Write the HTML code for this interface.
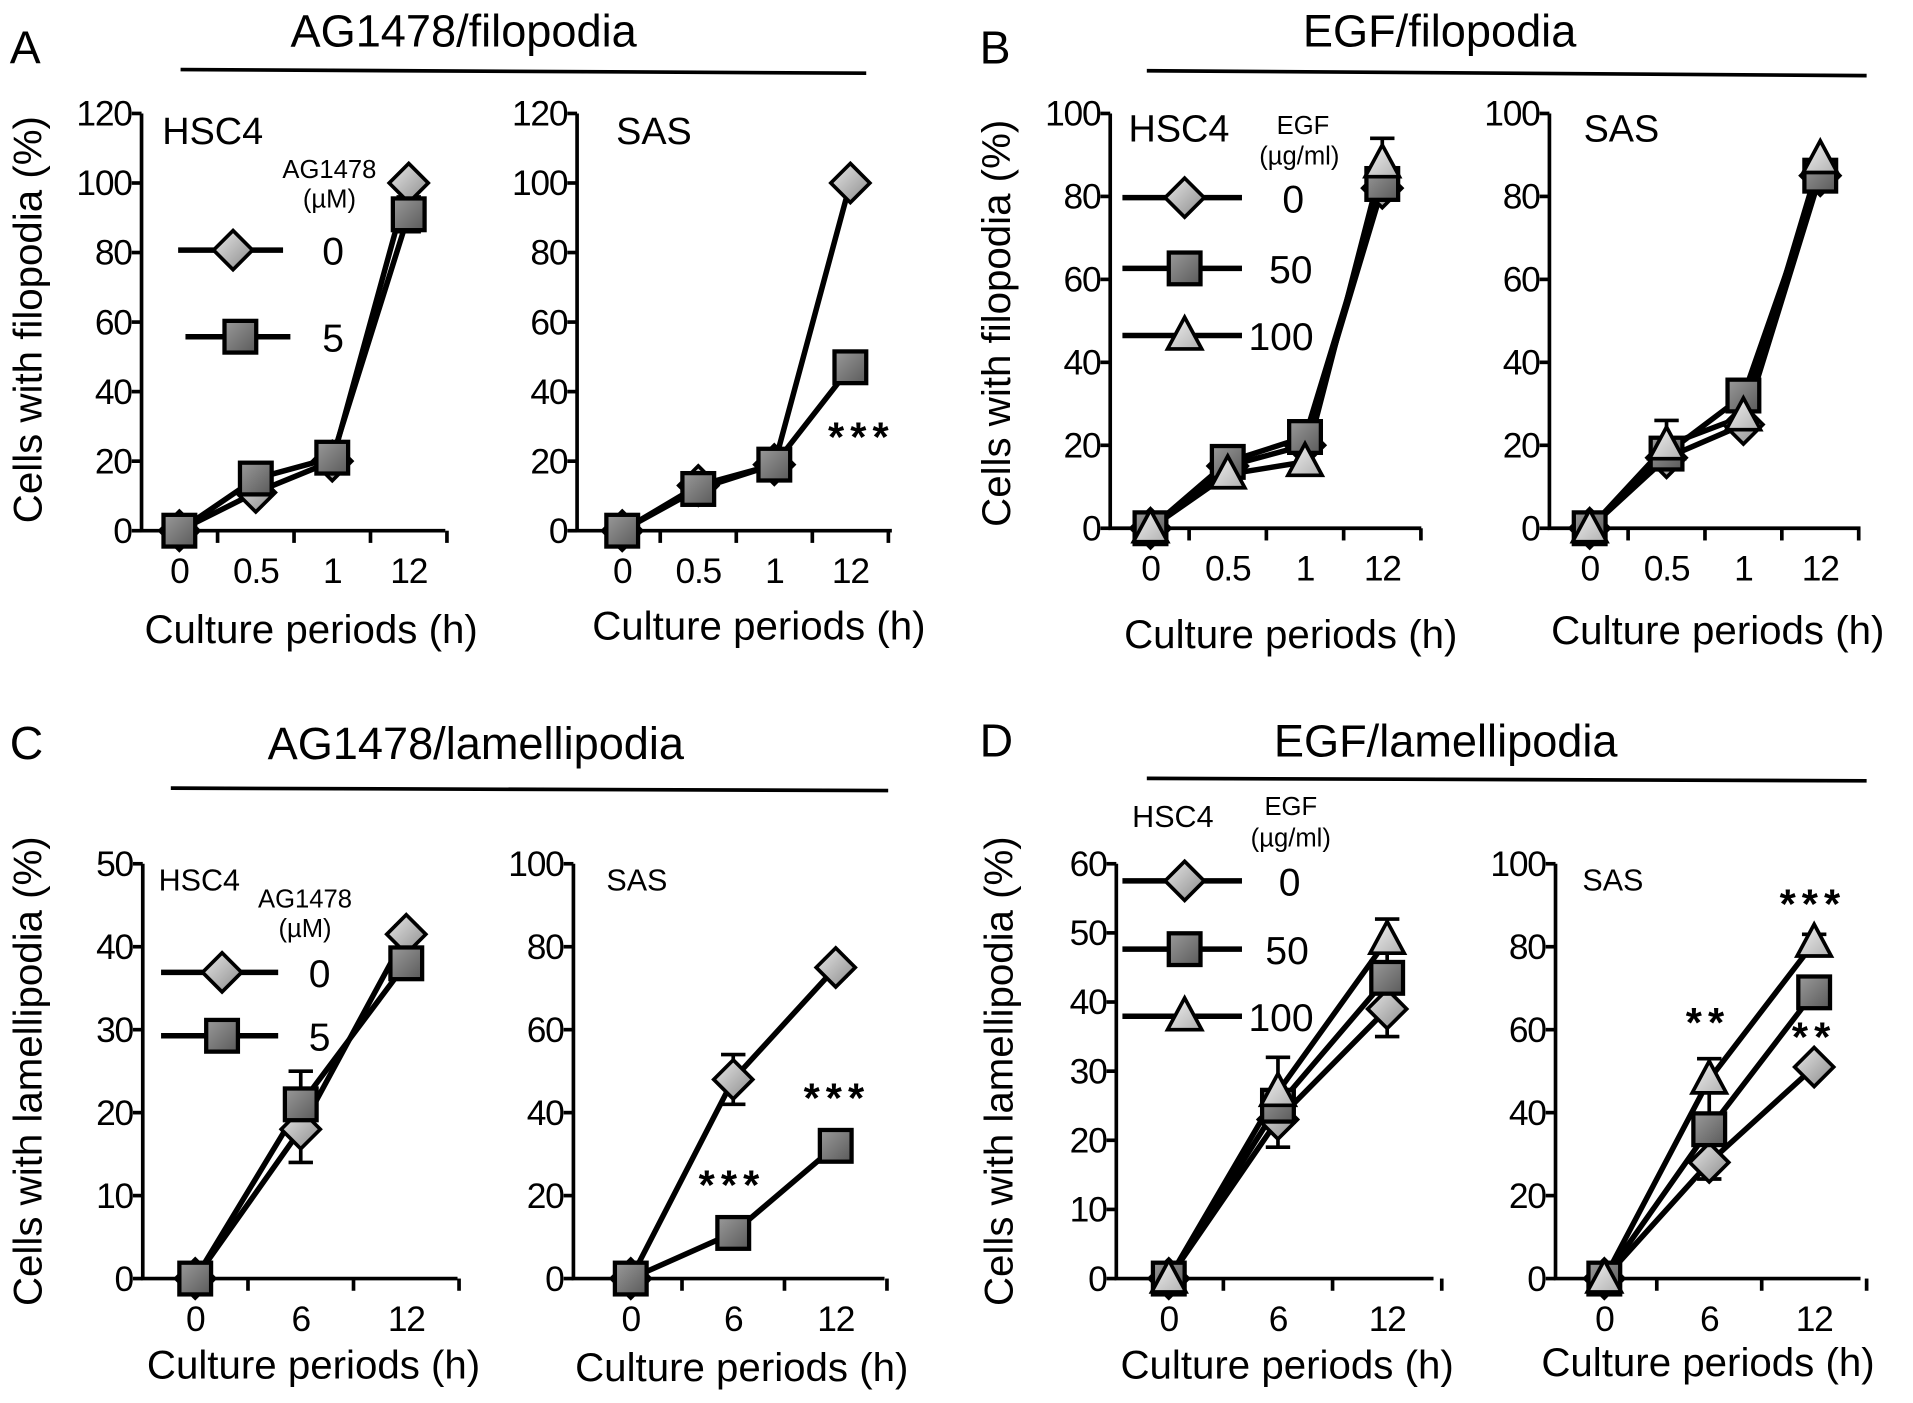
<!DOCTYPE html>
<html><head><meta charset="utf-8"><style>
html,body{margin:0;padding:0;background:#fff;}
svg{display:block;font-family:"Liberation Sans",sans-serif;}
</style></head><body>
<svg id="fig" width="1913" height="1403" viewBox="0 0 1568 1150" xmlns="http://www.w3.org/2000/svg">
<defs>
<linearGradient id="gd" x1="0" y1="0" x2="1" y2="1"><stop offset="0" stop-color="#e8e8e8"/><stop offset="1" stop-color="#8a8a8a"/></linearGradient>
<linearGradient id="gs" x1="0" y1="0" x2="1" y2="1"><stop offset="0" stop-color="#9a9a9a"/><stop offset="1" stop-color="#5a5a5a"/></linearGradient>
<linearGradient id="gt" x1="0" y1="0" x2="1" y2="1"><stop offset="0" stop-color="#f2f2f2"/><stop offset="1" stop-color="#b0b0b0"/></linearGradient>
</defs>
<g>
<text x="8" y="52" font-size="38">A</text>
<text x="380" y="38" font-size="37" text-anchor="middle">AG1478/filopodia</text>
<line x1="148" y1="57" x2="710" y2="60" stroke="#000" stroke-width="3"/>
</g>
<g>
<text x="803" y="52" font-size="38">B</text>
<text x="1180" y="38" font-size="37" text-anchor="middle">EGF/filopodia</text>
<line x1="940" y1="58" x2="1530" y2="62" stroke="#000" stroke-width="3"/>
</g>
<g>
<text x="8" y="622" font-size="38">C</text>
<text x="390" y="622" font-size="37" text-anchor="middle">AG1478/lamellipodia</text>
<line x1="140" y1="646" x2="728" y2="648" stroke="#000" stroke-width="3"/>
</g>
<g>
<text x="803" y="620" font-size="38">D</text>
<text x="1185" y="620" font-size="37" text-anchor="middle">EGF/lamellipodia</text>
<line x1="940" y1="638" x2="1530" y2="640" stroke="#000" stroke-width="3"/>
</g>
<text transform="translate(34,262) rotate(-90)" font-size="33" text-anchor="middle">Cells with filopodia (%)</text>
<text transform="translate(828,265) rotate(-90)" font-size="33" text-anchor="middle">Cells with filopodia (%)</text>
<text transform="translate(34,878) rotate(-90)" font-size="33" text-anchor="middle">Cells with lamellipodia (%)</text>
<text transform="translate(830,878) rotate(-90)" font-size="33" text-anchor="middle">Cells with lamellipodia (%)</text>
</svg>
<script>
// ---- data ----
const catsFilo = ["0","0.5","1","12"];
const catsLam = ["0","6","12"];
const ticksA = [0,20,40,60,80,100,120];
const ticksFilo100 = [0,20,40,60,80,100];
const ticksLam50 = [0,10,20,30,40,50];
const ticksLam60 = [0,10,20,30,40,50,60];
const ticksLam100 = [0,20,40,60,80,100];
const aHscCtrl = [0,11,20,100];
const aHscAG = [0,15,21,91];
const aSasCtrl = [0,13,19,100];
const aSasAG = [0,12,19,47];
const bHscE0 = [0,15,20,82];
const bHscE50 = [0,16,22,83];
const bHscE100 = [0,13,16,88];
const bSasE0 = [0,17,25,85];
const bSasE50 = [0,18,32,85];
const bSasE100 = [0,20,27,89];
const cHscCtrl = [0,18,41.5];
const cHscAG = [0,21,38];
const cSasCtrl = [0,48,75];
const cSasAG = [0,11,32];
const dHscE0 = [0,23,39];
const dHscE50 = [0,25,43.5];
const dHscE100 = [0,27,49];
const dSasE0 = [0,28,51];
const dSasE50 = [0,36,69];
const dSasE100 = [0,48,81];
// ---- drawing ----
const NS="http://www.w3.org/2000/svg";
const svg=document.getElementById('fig');
function mk(tag,attrs,parent,txt){const e=document.createElementNS(NS,tag);for(const k in attrs)e.setAttribute(k,attrs[k]);if(txt!==undefined)e.textContent=txt;(parent||svg).appendChild(e);return e;}
function marker(g,type,x,y){
  let e;
  if(type==='d'){e=mk('polygon',{points:`${x},${y-16} ${x+16},${y} ${x},${y+16} ${x-16},${y}`,fill:'url(#gd)',stroke:'#000','stroke-width':3},g);}
  else if(type==='s'){e=mk('rect',{x:x-13,y:y-13,width:26,height:26,fill:'url(#gs)',stroke:'#000','stroke-width':3.5},g);}
  else {e=mk('polygon',{points:`${x},${y-15} ${x+14},${y+11} ${x-14},${y+11}`,fill:'url(#gt)',stroke:'#000','stroke-width':3},g);}
  
  
}
function panel(p){
  const g=mk('g',{},svg);
  
  
  const n=p.cats.length;
  const step=(p.cx1-p.cx0)/(n-1);
  const xs=i=>p.cx0+i*step;
  const ymax=p.ticks[p.ticks.length-1];
  const ys=v=>p.y0-(v/ymax)*(p.y0-p.ytop);
  const ax=mk('path',{d:`M${p.ax},${p.ytop} V${p.y0} H${p.axEnd}`,fill:'none',stroke:'#000','stroke-width':3},g);
  
  
  p.ticks.forEach(t=>{
    mk('line',{x1:p.ax-8,x2:p.ax,y1:ys(t),y2:ys(t),stroke:'#000','stroke-width':3},g);
    const tl=mk('text',{x:p.ax-8,y:ys(t)+10,'font-size':29,'text-anchor':'end','letter-spacing':'-1'},g,String(t));
    
    
  });
  for(let i=0;i<n;i++){const tx=xs(i)+step/2;mk('line',{x1:tx,x2:tx,y1:p.y0,y2:p.y0+10,stroke:'#000','stroke-width':3},g);}
  p.cats.forEach((c,i)=>{
    const tl=mk('text',{x:xs(i),y:p.y0+43,'font-size':29,'text-anchor':'middle','letter-spacing':'-1'},g,c);
    
    
  });
  const xt=mk('text',{x:p.xtx,y:p.xty,'font-size':33,'text-anchor':'middle'},g,'Culture periods (h)');
  
  
  const lab=mk('text',{x:p.lx,y:p.ly,'font-size':p.lfs},g,p.label);
  
  
  (p.errs||[]).forEach(e=>{
    const x=xs(e[0]);
    const el=mk('path',{d:`M${x},${ys(e[1])} V${ys(e[2])} M${x-10},${ys(e[1])} H${x+10} M${x-10},${ys(e[2])} H${x+10}`,stroke:'#000','stroke-width':3,fill:'none'},g);
    
    
  });
  p.series.forEach(s=>{
    const pts=s.v.map((v,i)=>`${xs(i)},${ys(v)}`).join(' ');
    const l=mk('polyline',{points:pts,fill:'none',stroke:'#000','stroke-width':4.5,'stroke-linejoin':'round'},g);
    
    
  });
  p.series.forEach(s=>{s.v.forEach((v,i)=>marker(g,s.m,xs(i),ys(v)));});
  (p.stars||[]).forEach(st=>{
    const t=mk('text',{x:st[0],y:st[1],'font-size':34,'font-weight':'bold','text-anchor':'middle','letter-spacing':'5'},g,st[2]);
    
    
  });
  (p.legend||[]).forEach(L=>{
    const lg=mk('g',{},g);
    
    
    mk('line',{x1:L.x1,x2:L.x2,y1:L.y,y2:L.y,stroke:'#000','stroke-width':4.5},lg);
    marker(lg,L.m,(L.x1+L.x2)/2+2,L.y);
    mk('text',{x:L.tx,y:L.y+12,'font-size':32,'text-anchor':'middle'},lg,L.t);
  });
  (p.legTitle||[]).forEach(T=>{
    const t=mk('text',{x:T[0],y:T[1],'font-size':T[3]||21,'text-anchor':'middle'},g,T[2]);
    
    
  });
}
panel({name:'chart-a-hsc4',cats:catsFilo,ticks:ticksA,ax:116,axEnd:365,y0:435,ytop:93,cx0:147,cx1:335,xtx:255,xty:527,label:'HSC4',lx:133,ly:118,lfs:31,
  series:[{v:aHscCtrl,m:'d'},{v:aHscAG,m:'s'}],errs:[[3,86,96]],
  legend:[{x1:146,x2:232,y:205,m:'d',t:'0',tx:273},{x1:152,x2:238,y:276,m:'s',t:'5',tx:273}],
  legTitle:[[270,146,'AG1478'],[270,170,'(µM)']]});
panel({name:'chart-a-sas',cats:catsFilo,ticks:ticksA,ax:473,axEnd:731,y0:435,ytop:93,cx0:510,cx1:697,xtx:622,xty:524,label:'SAS',lx:505,ly:118,lfs:31,
  series:[{v:aSasCtrl,m:'d'},{v:aSasAG,m:'s'}],
  stars:[[706,370,'***']]});
panel({name:'chart-b-hsc4',cats:catsFilo,ticks:ticksFilo100,ax:910,axEnd:1165,y0:433,ytop:93,cx0:943,cx1:1133,xtx:1058,xty:531,label:'HSC4',lx:925,ly:116,lfs:31,
  series:[{v:bHscE0,m:'d'},{v:bHscE50,m:'s'},{v:bHscE100,m:'t'}],errs:[[3,80,94]],
  legend:[{x1:920,x2:1018,y:162,m:'d',t:'0',tx:1060},{x1:920,x2:1018,y:220,m:'s',t:'50',tx:1058},{x1:920,x2:1018,y:275,m:'t',t:'100',tx:1050}],
  legTitle:[[1068,110,'EGF'],[1065,135,'(µg/ml)']]});
panel({name:'chart-b-sas',cats:catsFilo,ticks:ticksFilo100,ax:1270,axEnd:1525,y0:433,ytop:93,cx0:1303,cx1:1492,xtx:1408,xty:528,label:'SAS',lx:1298,ly:116,lfs:31,
  series:[{v:bSasE0,m:'d'},{v:bSasE50,m:'s'},{v:bSasE100,m:'t'}],errs:[[1,15,26]]});
panel({name:'chart-c-hsc4',cats:catsLam,ticks:ticksLam50,ax:117,axEnd:375,y0:1048,ytop:708,cx0:160,cx1:333,xtx:257,xty:1130,label:'HSC4',lx:130,ly:730,lfs:25,
  series:[{v:cHscCtrl,m:'d'},{v:cHscAG,m:'s'}],errs:[[1,14,25],[2,39,42.5]],
  legend:[{x1:132,x2:228,y:797,m:'d',t:'0',tx:262},{x1:132,x2:228,y:849,m:'s',t:'5',tx:262}],
  legTitle:[[250,744,'AG1478'],[250,768,'(µM)']]});
panel({name:'chart-c-sas',cats:catsLam,ticks:ticksLam100,ax:470,axEnd:725,y0:1048,ytop:708,cx0:517,cx1:685,xtx:608,xty:1132,label:'SAS',lx:497,ly:730,lfs:25,
  series:[{v:cSasCtrl,m:'d'},{v:cSasAG,m:'s'}],errs:[[1,42,54],[2,73,77]],
  stars:[[600,983,'***'],[686,912,'***']]});
panel({name:'chart-d-hsc4',cats:catsLam,ticks:ticksLam60,ax:915,axEnd:1175,y0:1048,ytop:708,cx0:958,cx1:1137,xtx:1055,xty:1130,label:'HSC4',lx:928,ly:678,lfs:25,
  series:[{v:dHscE0,m:'d'},{v:dHscE50,m:'s'},{v:dHscE100,m:'t'}],errs:[[1,19,32],[2,35,52]],
  legend:[{x1:920,x2:1018,y:722,m:'d',t:'0',tx:1057},{x1:920,x2:1018,y:778,m:'s',t:'50',tx:1055},{x1:920,x2:1018,y:833,m:'t',t:'100',tx:1050}],
  legTitle:[[1058,668,'EGF'],[1058,694,'(µg/ml)']]});
panel({name:'chart-d-sas',cats:catsLam,ticks:ticksLam100,ax:1275,axEnd:1525,y0:1048,ytop:708,cx0:1315,cx1:1487,xtx:1400,xty:1128,label:'SAS',lx:1297,ly:730,lfs:25,
  series:[{v:dSasE0,m:'d'},{v:dSasE50,m:'s'},{v:dSasE100,m:'t'}],errs:[[1,24,53],[2,78,83]],
  stars:[[1400,850,'**'],[1486,753,'***'],[1487,862,'**']]});
</script>
</body></html>
